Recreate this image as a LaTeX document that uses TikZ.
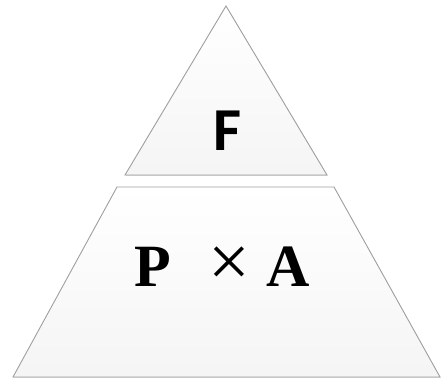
\documentclass[tikz,border=0pt]{standalone}
\usepackage{fontspec}
\newfontfamily\labelsans{Carlito}
\newfontfamily\labelserif{Liberation Serif}
\usepackage{xcolor}
\usepackage{tikz}
\usetikzlibrary{shadows}

\tikzset{
    level/.style={draw=gray!75,line width=0.9pt,line join=miter,
        top color=white,bottom color=gray!8,
        drop shadow={shadow xshift=0.6pt,shadow yshift=-0.8pt,opacity=0.3}},
}

\begin{document}
\begin{tikzpicture}[x=1pt,y=-1pt]
\useasboundingbox (0,0) rectangle (443,379);
\draw[level] (226,6) -- (327,175) -- (125,175) -- cycle;
\draw[level] (117,187) -- (334,187) -- (440,377) -- (13,377) -- cycle;
\node[font=\labelsans\bfseries\fontsize{61}{61}\selectfont] (force) at (227,131) {F};
\node[font=\labelserif\bfseries\fontsize{60}{60}\selectfont] (product) at (222,267)
    {P\hspace{38pt}{\mdseries\fontsize{74}{74}\selectfont ×}\hspace{16pt}A};
\end{tikzpicture}
\end{document}
